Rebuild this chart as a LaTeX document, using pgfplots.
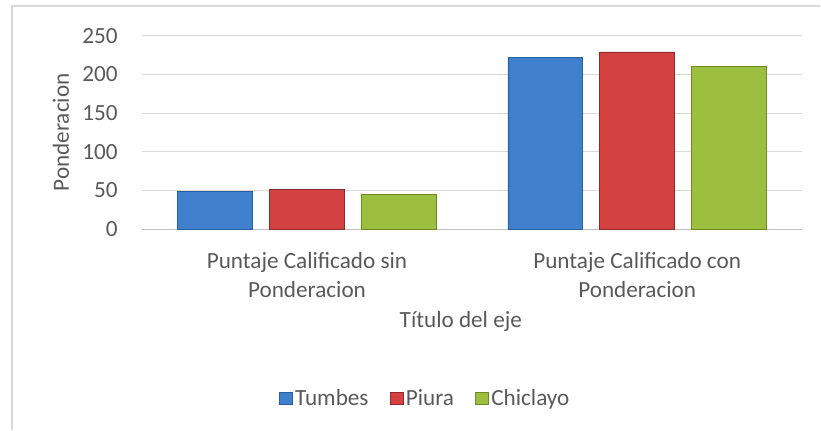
\documentclass[border=0pt]{standalone}
\usepackage{pgfplots}
\pgfplotsset{compat=1.18}
\usepackage{fontspec}
\setmainfont{Carlito}
\definecolor{txt}{HTML}{595959}
\definecolor{gridc}{HTML}{D9D9D9}
\definecolor{tblue}{HTML}{3F7FCB}
\definecolor{tblueD}{HTML}{2A5E9E}
\definecolor{tred}{HTML}{D44141}
\definecolor{tredD}{HTML}{8E2A2A}
\definecolor{tgreen}{HTML}{9DBF3F}
\definecolor{tgreenD}{HTML}{6B8A25}
\begin{document}
\begin{tikzpicture}[x=0.75pt,y=0.75pt]
\path (0,0) rectangle (821,430);
\draw[color=gridc, line width=1.1pt] (12,0) -- (12,424) -- (821,424);
\begin{axis}[
  at={(106.5pt,150.5pt)}, anchor=south west,
  scale only axis, width=495.75pt, height=145.2pt,
  xmin=-0.5, xmax=1.5, ymin=0, ymax=250,
  ytick={0,50,...,250}, xtick={0,1},
  xticklabels={{Puntaje Calificado sin\\Ponderacion},{Puntaje Calificado con\\Ponderacion}},
  ybar=12.75pt, bar width=56.25pt,
  axis x line*=bottom, axis y line*=left,
  y axis line style={draw=none},
  x axis line style={draw=black!25, line width=0.8pt},
  major tick length=0pt,
  ymajorgrids, grid style={gridc, line width=0.8pt},
  font=\fontsize{17.4}{21.75}\selectfont,
  every tick label/.append style={text=txt},
  /pgf/number format/assume math mode=true,
  yticklabel style={anchor=east, inner sep=0pt, xshift=-18pt},
  xticklabel style={align=center, anchor=north, inner sep=0pt, yshift=-17pt},
  ylabel={Ponderacion},
  ylabel style={text=txt, at={(axis description cs:-0.1225,0.5)}, anchor=center, rotate=0},
  xlabel={Título del eje},
  xlabel style={text=txt, at={(axis description cs:0.483,-0.479)}, anchor=center},
  legend columns=3,
  legend style={draw=none, fill=none, text=txt, at={(axis description cs:0.4297,-0.876)}, anchor=center,
    /tikz/every even column/.append style={column sep=14pt},
    font=\fontsize{17.4}{20}\selectfont},
  legend image code/.code={\draw[#1, line width=0.5pt] (0pt,-4.5pt) rectangle (9.5pt,5pt);},
]
\addplot[fill=tblue, draw=tblueD] coordinates {(0,49) (1,222)};
\addplot[fill=tred, draw=tredD] coordinates {(0,51) (1,229)};
\addplot[fill=tgreen, draw=tgreenD] coordinates {(0,45) (1,210)};
\legend{Tumbes,Piura,Chiclayo}
\end{axis}
\end{tikzpicture}
\end{document}
